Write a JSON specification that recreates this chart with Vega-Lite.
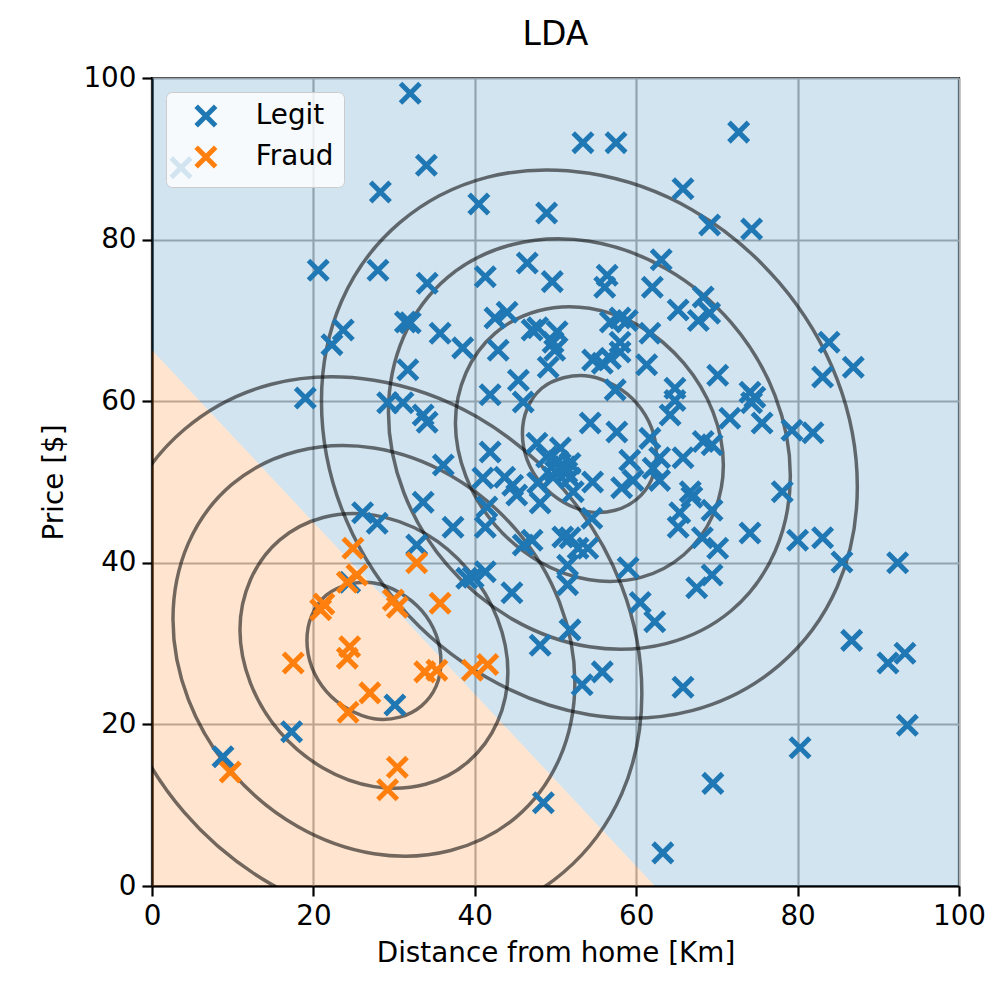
{
  "$schema": "https://vega.github.io/schema/vega-lite/v6.json",
  "width": 807,
  "height": 808,
  "autosize": {"type": "none"},
  "padding": {"left": 152, "top": 78, "right": 39, "bottom": 115},
  "background": "white",
  "title": {"text": "LDA", "fontSize": 33, "font": "DejaVu Sans", "fontWeight": "normal", "color": "black", "offset": 12},
  "layer": [
    {
      "data": {"values": [
        {"x": 0, "y": 66.3, "yhi": 100},
        {"x": 62.3, "y": 0, "yhi": 100},
        {"x": 100, "y": 0, "yhi": 100}
      ]},
      "mark": {"type": "area", "fill": "#1f77b4", "opacity": 0.2, "clip": true},
      "encoding": {
        "x": {"field": "x", "type": "quantitative", "scale": {"domain": [0, 100], "nice": false}, "axis": {"values": [0, 20, 40, 60, 80, 100], "title": "Distance from home [Km]", "labelFlush": false}},
        "y": {"field": "y", "type": "quantitative", "scale": {"domain": [0, 100], "nice": false}, "axis": {"values": [0, 20, 40, 60, 80, 100], "title": "Price [$]"}},
        "y2": {"field": "yhi"}
      }
    },
    {
      "data": {"values": [
        {"x": 0, "y": 0, "yhi": 66.3},
        {"x": 62.3, "y": 0, "yhi": 0}
      ]},
      "mark": {"type": "area", "fill": "#ff7f0e", "opacity": 0.2, "clip": true},
      "encoding": {
        "x": {"field": "x", "type": "quantitative", "title": "Distance from home [Km]"},
        "y": {"field": "y", "type": "quantitative", "title": "Price [$]"},
        "y2": {"field": "yhi"}
      }
    },
    {
      "data": {"values": [
        {"r":"L1","i":0,"x":62.5,"y":53.4},{"r":"L1","i":1,"x":61.9,"y":56.7},{"r":"L1","i":2,"x":60.1,"y":59.7},{"r":"L1","i":3,"x":57.4,"y":61.9},{"r":"L1","i":4,"x":54.2,"y":63.1},{"r":"L1","i":5,"x":51.0,"y":62.9},{"r":"L1","i":6,"x":48.3,"y":61.6},{"r":"L1","i":7,"x":46.5,"y":59.1},{"r":"L1","i":8,"x":45.9,"y":56.0},{"r":"L1","i":9,"x":46.5,"y":52.7},{"r":"L1","i":10,"x":48.3,"y":49.7},{"r":"L1","i":11,"x":51.0,"y":47.5},{"r":"L1","i":12,"x":54.2,"y":46.3},{"r":"L1","i":13,"x":57.4,"y":46.5},{"r":"L1","i":14,"x":60.1,"y":47.9},{"r":"L1","i":15,"x":61.9,"y":50.3},
        {"r":"L2","i":0,"x":70.8,"y":52.1},{"r":"L2","i":1,"x":69.5,"y":58.7},{"r":"L2","i":2,"x":65.9,"y":64.7},{"r":"L2","i":3,"x":60.6,"y":69.2},{"r":"L2","i":4,"x":54.2,"y":71.5},{"r":"L2","i":5,"x":47.9,"y":71.2},{"r":"L2","i":6,"x":42.5,"y":68.4},{"r":"L2","i":7,"x":38.9,"y":63.5},{"r":"L2","i":8,"x":37.6,"y":57.3},{"r":"L2","i":9,"x":38.9,"y":50.7},{"r":"L2","i":10,"x":42.5,"y":44.7},{"r":"L2","i":11,"x":47.9,"y":40.2},{"r":"L2","i":12,"x":54.2,"y":37.9},{"r":"L2","i":13,"x":60.6,"y":38.2},{"r":"L2","i":14,"x":65.9,"y":41.0},{"r":"L2","i":15,"x":69.5,"y":45.9},
        {"r":"L3","i":0,"x":79.1,"y":50.8},{"r":"L3","i":1,"x":77.2,"y":60.7},{"r":"L3","i":2,"x":71.8,"y":69.7},{"r":"L3","i":3,"x":63.7,"y":76.4},{"r":"L3","i":4,"x":54.2,"y":79.8},{"r":"L3","i":5,"x":44.7,"y":79.4},{"r":"L3","i":6,"x":36.6,"y":75.3},{"r":"L3","i":7,"x":31.2,"y":68.0},{"r":"L3","i":8,"x":29.3,"y":58.6},{"r":"L3","i":9,"x":31.2,"y":48.7},{"r":"L3","i":10,"x":36.6,"y":39.7},{"r":"L3","i":11,"x":44.7,"y":33.0},{"r":"L3","i":12,"x":54.2,"y":29.6},{"r":"L3","i":13,"x":63.7,"y":30.0},{"r":"L3","i":14,"x":71.8,"y":34.1},{"r":"L3","i":15,"x":77.2,"y":41.4},
        {"r":"L4","i":0,"x":87.4,"y":49.4},{"r":"L4","i":1,"x":84.9,"y":62.7},{"r":"L4","i":2,"x":77.7,"y":74.7},{"r":"L4","i":3,"x":66.9,"y":83.7},{"r":"L4","i":4,"x":54.2,"y":88.2},{"r":"L4","i":5,"x":41.5,"y":87.7},{"r":"L4","i":6,"x":30.7,"y":82.1},{"r":"L4","i":7,"x":23.5,"y":72.4},{"r":"L4","i":8,"x":21.0,"y":60.0},{"r":"L4","i":9,"x":23.5,"y":46.7},{"r":"L4","i":10,"x":30.7,"y":34.7},{"r":"L4","i":11,"x":41.5,"y":25.8},{"r":"L4","i":12,"x":54.2,"y":21.2},{"r":"L4","i":13,"x":66.9,"y":21.7},{"r":"L4","i":14,"x":77.7,"y":27.3},{"r":"L4","i":15,"x":84.9,"y":37.0},
        {"r":"F1","i":0,"x":35.8,"y":27.8},{"r":"F1","i":1,"x":35.2,"y":31.1},{"r":"F1","i":2,"x":33.4,"y":34.1},{"r":"F1","i":3,"x":30.7,"y":36.3},{"r":"F1","i":4,"x":27.5,"y":37.5},{"r":"F1","i":5,"x":24.3,"y":37.3},{"r":"F1","i":6,"x":21.6,"y":36.0},{"r":"F1","i":7,"x":19.8,"y":33.5},{"r":"F1","i":8,"x":19.2,"y":30.4},{"r":"F1","i":9,"x":19.8,"y":27.1},{"r":"F1","i":10,"x":21.6,"y":24.1},{"r":"F1","i":11,"x":24.3,"y":21.9},{"r":"F1","i":12,"x":27.5,"y":20.7},{"r":"F1","i":13,"x":30.7,"y":20.9},{"r":"F1","i":14,"x":33.4,"y":22.3},{"r":"F1","i":15,"x":35.2,"y":24.7},
        {"r":"F2","i":0,"x":44.1,"y":26.5},{"r":"F2","i":1,"x":42.8,"y":33.1},{"r":"F2","i":2,"x":39.2,"y":39.1},{"r":"F2","i":3,"x":33.9,"y":43.6},{"r":"F2","i":4,"x":27.5,"y":45.9},{"r":"F2","i":5,"x":21.2,"y":45.6},{"r":"F2","i":6,"x":15.8,"y":42.8},{"r":"F2","i":7,"x":12.2,"y":37.9},{"r":"F2","i":8,"x":10.9,"y":31.7},{"r":"F2","i":9,"x":12.2,"y":25.1},{"r":"F2","i":10,"x":15.8,"y":19.1},{"r":"F2","i":11,"x":21.2,"y":14.6},{"r":"F2","i":12,"x":27.5,"y":12.3},{"r":"F2","i":13,"x":33.9,"y":12.6},{"r":"F2","i":14,"x":39.2,"y":15.4},{"r":"F2","i":15,"x":42.8,"y":20.3},
        {"r":"F3","i":0,"x":52.4,"y":25.2},{"r":"F3","i":1,"x":50.5,"y":35.1},{"r":"F3","i":2,"x":45.1,"y":44.1},{"r":"F3","i":3,"x":37.0,"y":50.8},{"r":"F3","i":4,"x":27.5,"y":54.2},{"r":"F3","i":5,"x":18.0,"y":53.8},{"r":"F3","i":6,"x":9.9,"y":49.7},{"r":"F3","i":7,"x":4.5,"y":42.4},{"r":"F3","i":8,"x":2.6,"y":33.0},{"r":"F3","i":9,"x":4.5,"y":23.1},{"r":"F3","i":10,"x":9.9,"y":14.1},{"r":"F3","i":11,"x":18.0,"y":7.4},{"r":"F3","i":12,"x":27.5,"y":4.0},{"r":"F3","i":13,"x":37.0,"y":4.4},{"r":"F3","i":14,"x":45.1,"y":8.5},{"r":"F3","i":15,"x":50.5,"y":15.8},
        {"r":"F4","i":0,"x":60.7,"y":23.8},{"r":"F4","i":1,"x":58.2,"y":37.1},{"r":"F4","i":2,"x":51.0,"y":49.1},{"r":"F4","i":3,"x":40.2,"y":58.1},{"r":"F4","i":4,"x":27.5,"y":62.6},{"r":"F4","i":5,"x":14.8,"y":62.1},{"r":"F4","i":6,"x":4.0,"y":56.5},{"r":"F4","i":7,"x":-3.2,"y":46.8},{"r":"F4","i":8,"x":-5.7,"y":34.4},{"r":"F4","i":9,"x":-3.2,"y":21.1},{"r":"F4","i":10,"x":4.0,"y":9.1},{"r":"F4","i":11,"x":14.8,"y":0.2},{"r":"F4","i":12,"x":27.5,"y":-4.4},{"r":"F4","i":13,"x":40.2,"y":-3.9},{"r":"F4","i":14,"x":51.0,"y":1.7},{"r":"F4","i":15,"x":58.2,"y":11.4}
      ]},
      "mark": {"type": "line", "interpolate": "cardinal-closed", "stroke": "black", "opacity": 0.55, "strokeWidth": 3.5, "clip": true},
      "encoding": {
        "x": {"field": "x", "type": "quantitative", "title": "Distance from home [Km]"},
        "y": {"field": "y", "type": "quantitative", "title": "Price [$]"},
        "detail": {"field": "r", "type": "nominal"},
        "order": {"field": "i", "type": "quantitative"}
      }
    },
    {
      "data": {"values": [
        {"x":3.6,"y":88.9,"c":"Legit"},{"x":32.0,"y":98.1,"c":"Legit"},{"x":34.0,"y":89.2,"c":"Legit"},{"x":28.3,"y":85.9,"c":"Legit"},{"x":20.6,"y":76.2,"c":"Legit"},{"x":28.0,"y":76.2,"c":"Legit"},{"x":40.5,"y":84.4,"c":"Legit"},{"x":48.9,"y":83.3,"c":"Legit"},{"x":53.4,"y":92.0,"c":"Legit"},{"x":57.5,"y":92.0,"c":"Legit"},{"x":72.7,"y":93.3,"c":"Legit"},{"x":65.8,"y":86.3,"c":"Legit"},{"x":69.1,"y":81.8,"c":"Legit"},{"x":74.3,"y":81.3,"c":"Legit"},{"x":41.3,"y":75.4,"c":"Legit"},{"x":46.5,"y":77.1,"c":"Legit"},{"x":49.6,"y":74.8,"c":"Legit"},{"x":56.4,"y":75.6,"c":"Legit"},{"x":56.1,"y":74.1,"c":"Legit"},{"x":62.0,"y":74.1,"c":"Legit"},{"x":63.1,"y":77.5,"c":"Legit"},{"x":65.2,"y":71.3,"c":"Legit"},{"x":68.3,"y":72.9,"c":"Legit"},{"x":69.1,"y":70.9,"c":"Legit"},{"x":67.7,"y":70.0,"c":"Legit"},{"x":83.9,"y":67.3,"c":"Legit"},{"x":34.1,"y":74.6,"c":"Legit"},{"x":32.0,"y":69.7,"c":"Legit"},{"x":31.4,"y":69.8,"c":"Legit"},{"x":23.7,"y":68.8,"c":"Legit"},{"x":22.3,"y":67.0,"c":"Legit"},{"x":35.7,"y":68.4,"c":"Legit"},{"x":38.5,"y":66.6,"c":"Legit"},{"x":42.5,"y":70.3,"c":"Legit"},{"x":44.0,"y":71.0,"c":"Legit"},{"x":47.1,"y":68.8,"c":"Legit"},{"x":47.8,"y":69.1,"c":"Legit"},{"x":50.2,"y":68.6,"c":"Legit"},{"x":49.7,"y":67.3,"c":"Legit"},{"x":56.8,"y":69.8,"c":"Legit"},{"x":58.0,"y":70.3,"c":"Legit"},{"x":58.9,"y":70.0,"c":"Legit"},{"x":58.0,"y":67.3,"c":"Legit"},{"x":61.7,"y":68.4,"c":"Legit"},
        {"x":19.0,"y":60.4,"c":"Legit"},{"x":31.7,"y":63.9,"c":"Legit"},{"x":29.2,"y":59.8,"c":"Legit"},{"x":31.1,"y":59.8,"c":"Legit"},{"x":33.6,"y":58.3,"c":"Legit"},{"x":34.1,"y":57.4,"c":"Legit"},{"x":33.6,"y":47.5,"c":"Legit"},{"x":26.1,"y":46.2,"c":"Legit"},{"x":27.9,"y":44.9,"c":"Legit"},{"x":32.8,"y":42.2,"c":"Legit"},{"x":24.5,"y":37.6,"c":"Legit"},
        {"x":30.1,"y":22.4,"c":"Legit"},{"x":17.3,"y":19.1,"c":"Legit"},{"x":8.8,"y":16.0,"c":"Legit"},{"x":48.1,"y":29.8,"c":"Legit"},{"x":51.8,"y":31.7,"c":"Legit"},{"x":53.3,"y":24.9,"c":"Legit"},{"x":55.8,"y":26.5,"c":"Legit"},{"x":62.3,"y":32.7,"c":"Legit"},{"x":65.8,"y":24.6,"c":"Legit"},{"x":48.5,"y":10.3,"c":"Legit"},{"x":63.3,"y":4.1,"c":"Legit"},{"x":86.7,"y":30.4,"c":"Legit"},{"x":91.2,"y":27.6,"c":"Legit"},{"x":93.3,"y":28.8,"c":"Legit"},{"x":93.6,"y":19.9,"c":"Legit"},{"x":80.3,"y":17.1,"c":"Legit"},{"x":69.5,"y":12.7,"c":"Legit"},
        {"x":70.1,"y":63.2,"c":"Legit"},{"x":74.1,"y":61.1,"c":"Legit"},{"x":74.7,"y":60.5,"c":"Legit"},{"x":74.3,"y":59.8,"c":"Legit"},{"x":71.6,"y":57.9,"c":"Legit"},{"x":75.6,"y":57.3,"c":"Legit"},{"x":79.3,"y":56.4,"c":"Legit"},{"x":81.9,"y":56.1,"c":"Legit"},{"x":83.1,"y":63.0,"c":"Legit"},{"x":86.9,"y":64.2,"c":"Legit"},{"x":68.3,"y":55.0,"c":"Legit"},{"x":69.4,"y":54.6,"c":"Legit"},{"x":78.1,"y":48.8,"c":"Legit"},{"x":66.9,"y":48.1,"c":"Legit"},{"x":69.4,"y":46.5,"c":"Legit"},{"x":68.2,"y":43.1,"c":"Legit"},{"x":70.1,"y":41.8,"c":"Legit"},{"x":74.1,"y":43.7,"c":"Legit"},{"x":80.0,"y":42.8,"c":"Legit"},{"x":83.1,"y":43.1,"c":"Legit"},{"x":85.5,"y":40.1,"c":"Legit"},{"x":92.4,"y":40.0,"c":"Legit"},{"x":69.4,"y":38.5,"c":"Legit"},{"x":67.5,"y":36.9,"c":"Legit"},
        {"x":42.9,"y":66.3,"c":"Legit"},{"x":49.9,"y":66.3,"c":"Legit"},{"x":49.1,"y":64.2,"c":"Legit"},{"x":54.6,"y":65.1,"c":"Legit"},{"x":55.8,"y":64.7,"c":"Legit"},{"x":56.8,"y":65.3,"c":"Legit"},{"x":58.0,"y":66.1,"c":"Legit"},{"x":61.3,"y":64.5,"c":"Legit"},{"x":45.4,"y":62.6,"c":"Legit"},{"x":41.9,"y":60.8,"c":"Legit"},{"x":46.0,"y":59.9,"c":"Legit"},{"x":57.4,"y":61.4,"c":"Legit"},{"x":64.8,"y":61.6,"c":"Legit"},{"x":64.8,"y":60.1,"c":"Legit"},{"x":64.2,"y":58.3,"c":"Legit"},{"x":54.3,"y":57.3,"c":"Legit"},{"x":57.6,"y":56.2,"c":"Legit"},{"x":61.7,"y":55.4,"c":"Legit"},{"x":47.7,"y":54.8,"c":"Legit"},{"x":50.6,"y":54.2,"c":"Legit"},{"x":41.9,"y":53.7,"c":"Legit"},{"x":48.9,"y":53.1,"c":"Legit"},{"x":59.2,"y":52.7,"c":"Legit"},{"x":62.9,"y":53.0,"c":"Legit"},{"x":65.8,"y":53.0,"c":"Legit"},{"x":36.1,"y":52.1,"c":"Legit"},{"x":50.6,"y":51.7,"c":"Legit"},{"x":51.4,"y":51.2,"c":"Legit"},{"x":62.1,"y":51.7,"c":"Legit"},{"x":41.0,"y":50.5,"c":"Legit"},{"x":43.7,"y":50.6,"c":"Legit"},{"x":44.7,"y":49.6,"c":"Legit"},{"x":47.8,"y":49.9,"c":"Legit"},{"x":49.7,"y":50.6,"c":"Legit"},{"x":51.8,"y":50.5,"c":"Legit"},{"x":54.6,"y":50.0,"c":"Legit"},{"x":58.2,"y":49.3,"c":"Legit"},{"x":59.6,"y":50.2,"c":"Legit"},{"x":62.9,"y":50.2,"c":"Legit"},{"x":66.7,"y":48.8,"c":"Legit"},{"x":45.2,"y":48.4,"c":"Legit"},{"x":52.2,"y":48.8,"c":"Legit"},{"x":48.1,"y":47.4,"c":"Legit"},{"x":41.5,"y":46.9,"c":"Legit"},{"x":54.5,"y":45.5,"c":"Legit"},{"x":41.3,"y":44.4,"c":"Legit"},{"x":37.3,"y":44.4,"c":"Legit"},{"x":65.4,"y":46.2,"c":"Legit"},{"x":65.2,"y":44.4,"c":"Legit"},{"x":46.0,"y":42.2,"c":"Legit"},{"x":47.1,"y":42.8,"c":"Legit"},{"x":50.9,"y":43.2,"c":"Legit"},{"x":51.8,"y":43.1,"c":"Legit"},{"x":52.8,"y":41.8,"c":"Legit"},{"x":54.0,"y":41.8,"c":"Legit"},{"x":41.3,"y":38.9,"c":"Legit"},{"x":39.8,"y":38.2,"c":"Legit"},{"x":39.0,"y":38.1,"c":"Legit"},{"x":51.5,"y":39.7,"c":"Legit"},{"x":51.5,"y":37.3,"c":"Legit"},{"x":59.0,"y":39.4,"c":"Legit"},{"x":44.6,"y":36.3,"c":"Legit"},{"x":60.5,"y":35.1,"c":"Legit"},
        {"x":50.3,"y":52.6,"c":"Legit"},{"x":51.2,"y":51.9,"c":"Legit"},{"x":50.0,"y":51.3,"c":"Legit"},{"x":51.8,"y":52.3,"c":"Legit"},
        {"x":24.9,"y":41.8,"c":"Fraud"},{"x":32.8,"y":40.0,"c":"Fraud"},{"x":25.4,"y":38.5,"c":"Fraud"},{"x":24.2,"y":37.6,"c":"Fraud"},{"x":21.3,"y":34.9,"c":"Fraud"},{"x":20.9,"y":34.2,"c":"Fraud"},{"x":29.9,"y":35.4,"c":"Fraud"},{"x":30.4,"y":34.5,"c":"Fraud"},{"x":35.7,"y":35.0,"c":"Fraud"},{"x":24.5,"y":29.6,"c":"Fraud"},{"x":24.2,"y":28.2,"c":"Fraud"},{"x":17.5,"y":27.6,"c":"Fraud"},{"x":33.8,"y":26.5,"c":"Fraud"},{"x":35.3,"y":26.7,"c":"Fraud"},{"x":27.0,"y":23.9,"c":"Fraud"},{"x":24.3,"y":21.5,"c":"Fraud"},{"x":39.7,"y":26.7,"c":"Fraud"},{"x":41.6,"y":27.4,"c":"Fraud"},{"x":9.7,"y":14.1,"c":"Fraud"},{"x":30.4,"y":14.7,"c":"Fraud"},{"x":29.2,"y":11.9,"c":"Fraud"}
      ]},
      "mark": {"type": "point", "shape": "M-1,-1L1,1M-1,1L1,-1", "filled": false, "size": 380, "strokeWidth": 5, "opacity": 1, "strokeCap": "butt"},
      "encoding": {
        "x": {"field": "x", "type": "quantitative", "title": "Distance from home [Km]"},
        "y": {"field": "y", "type": "quantitative", "title": "Price [$]"},
        "color": {
          "field": "c", "type": "nominal",
          "scale": {"domain": ["Legit", "Fraud"], "range": ["#1f77b4", "#ff7f0e"]},
          "legend": {
            "title": null, "orient": "top-left", "offset": 14, "padding": 10, "rowPadding": 1,
            "labelOffset": 36, "symbolOffset": 16,
            "symbolType": "M-1,-1L1,1M-1,1L1,-1", "symbolSize": 380, "symbolStrokeWidth": 5,
            "labelFontSize": 27.8, "labelFont": "DejaVu Sans", "labelColor": "black",
            "fillColor": "rgba(255,255,255,0.8)", "strokeColor": "#cccccc", "cornerRadius": 6, "zindex": 1
          }
        }
      }
    }
  ],
  "config": {
    "font": "DejaVu Sans",
    "view": {"stroke": "black", "strokeWidth": 2.2},
    "axis": {
      "labelFontSize": 27.8, "titleFontSize": 27.8, "titleFontWeight": "normal",
      "labelFont": "DejaVu Sans", "titleFont": "DejaVu Sans",
      "labelColor": "black", "titleColor": "black",
      "domainColor": "black", "domainWidth": 2.2,
      "tickColor": "black", "tickWidth": 2.2, "tickSize": 10, "labelPadding": 6,
      "gridColor": "#b0b0b0", "gridWidth": 2.2
    },
    "axisX": {"titlePadding": 10},
    "axisY": {"titlePadding": 14}
  }
}
